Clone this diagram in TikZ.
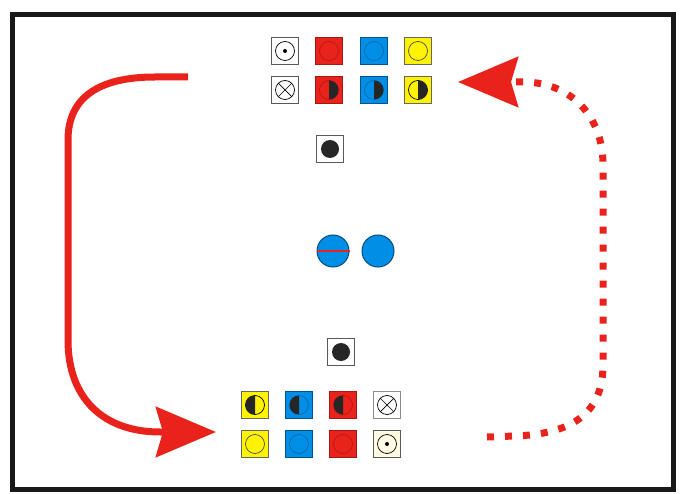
\documentclass[tikz,border=0pt]{standalone}
\usetikzlibrary{arrows.meta}

\definecolor{tred}{RGB}{234,34,28}
\definecolor{tblue}{RGB}{0,142,230}
\definecolor{tyellow}{RGB}{255,243,0}
\definecolor{tcream}{RGB}{255,251,226}
\definecolor{tdark}{RGB}{38,38,38}

\begin{document}
\begin{tikzpicture}[
    x=1pt, y=-1pt,
    tile/.style={
        draw=black!65,
        line width=0.9pt,
        minimum size=27pt,
        inner sep=0pt
    },
    redtile/.style={tile, fill=tred, draw=tred!70!black},
    bluetile/.style={tile, fill=tblue, draw=tblue!60!black},
    yellowtile/.style={tile, fill=tyellow, draw=black!60},
    ring/.style={line width=0.7pt},
    bigarrow/.style={
        -{Stealth[length=60pt, width=50pt, inset=7pt]},
        line width=7pt,
        draw=tred
    },
    dotarrow/.style={
        bigarrow,
        dash pattern=on 7pt off 11pt
    }
]

\useasboundingbox (0,0) rectangle (682,494);
\draw[line width=5pt, black!90] (12,15) rectangle (673,489);

% upper tiles
\node[tile] (uw1) at (285,51) {};
\node[redtile] (ur1) at (329,51) {};
\node[bluetile] (ub1) at (374,51) {};
\node[yellowtile] (uy1) at (418,51) {};
\node[tile] (uw2) at (285,90) {};
\node[redtile] (ur2) at (329,90) {};
\node[bluetile] (ub2) at (374,90) {};
\node[yellowtile] (uy2) at (418,90) {};

\draw[ring] (uw1.center) circle[radius=9.5];
\fill (uw1.center) circle[radius=2];
\draw[ring, tred!75!black] (ur1.center) circle[radius=9.5];
\draw[ring, tblue!75!black] (ub1.center) circle[radius=9.5];
\draw[ring, black!70] (uy1.center) circle[radius=9.5];
\draw[ring] (uw2.center) circle[radius=9.5];
\draw[ring] (uw2.center) ++(-6.7,-6.7) -- ++(13.4,13.4);
\draw[ring] (uw2.center) ++(-6.7,6.7) -- ++(13.4,-13.4);
\draw[ring, tred!75!black] (ur2.center) circle[radius=9.5];
\fill[tdark] (ur2.center) ++(0,-9.5) arc[start angle=-90, end angle=90, radius=9.5] -- cycle;
\draw[ring, tblue!75!black] (ub2.center) circle[radius=9.5];
\fill[tdark] (ub2.center) ++(0,-9.5) arc[start angle=-90, end angle=90, radius=9.5] -- cycle;
\draw[ring, black] (uy2.center) circle[radius=9.5];
\fill[tdark] (uy2.center) ++(0,-9.5) arc[start angle=-90, end angle=90, radius=9.5] -- cycle;

% single tiles and the two circles
\node[tile] (utop) at (330,149) {};
\fill[tdark] (utop.center) circle[radius=9];
\node[tile] (ubot) at (341,352) {};
\fill[tdark] (ubot.center) circle[radius=9];

\node[circle, fill=tblue, draw=tblue!55!black, line width=1pt, minimum size=32pt] (cl) at (333,251) {};
\node[circle, fill=tblue, draw=tblue!55!black, line width=1pt, minimum size=32pt] (cr) at (378,251) {};
\draw[tred, line width=2pt] (cl.west) -- (cl.east);

% lower tiles
\node[yellowtile] (ly1) at (255,405) {};
\node[bluetile] (lb1) at (299,405) {};
\node[redtile] (lr1) at (343,405) {};
\node[tile, draw=black!45] (lw1) at (387,405) {};
\node[yellowtile] (ly2) at (255,444) {};
\node[bluetile] (lb2) at (299,444) {};
\node[redtile] (lr2) at (343,444) {};
\node[tile, fill=tcream] (lw2) at (387,444) {};

\draw[ring, black] (ly1.center) circle[radius=9.5];
\fill[tdark] (ly1.center) ++(0,-9.5) arc[start angle=-90, end angle=-270, radius=9.5] -- cycle;
\draw[ring, tblue!75!black] (lb1.center) circle[radius=9.5];
\fill[tdark] (lb1.center) ++(0,-9.5) arc[start angle=-90, end angle=-270, radius=9.5] -- cycle;
\draw[ring, tred!75!black] (lr1.center) circle[radius=9.5];
\fill[tdark] (lr1.center) ++(0,-9.5) arc[start angle=-90, end angle=-270, radius=9.5] -- cycle;
\draw[ring] (lw1.center) circle[radius=9.5];
\draw[ring] (lw1.center) ++(-6.7,-6.7) -- ++(13.4,13.4);
\draw[ring] (lw1.center) ++(-6.7,6.7) -- ++(13.4,-13.4);
\draw[ring, black!70] (ly2.center) circle[radius=9.5];
\draw[ring, tblue!75!black] (lb2.center) circle[radius=9.5];
\draw[ring, tred!75!black] (lr2.center) circle[radius=9.5];
\draw[ring] (lw2.center) circle[radius=9.5];
\fill (lw2.center) circle[radius=2];

% arrows
\coordinate (solidA) at (188,77);
\coordinate (solidB) at (216,432);
\coordinate (dotA) at (487,437);
\coordinate (dotB) at (458,82);

\draw[bigarrow] (solidA) -- (155,77)
    .. controls (98,77) and (68,98) .. (68,140) -- (68,340)
    .. controls (68,400) and (105,432) .. (160,432) -- (solidB);
\draw[dotarrow] (dotA) -- (515,436)
    .. controls (570,434) and (603,415) .. (603,365) -- (603,165)
    .. controls (603,115) and (570,83) .. (525,82) -- (dotB);

\end{tikzpicture}
\end{document}
